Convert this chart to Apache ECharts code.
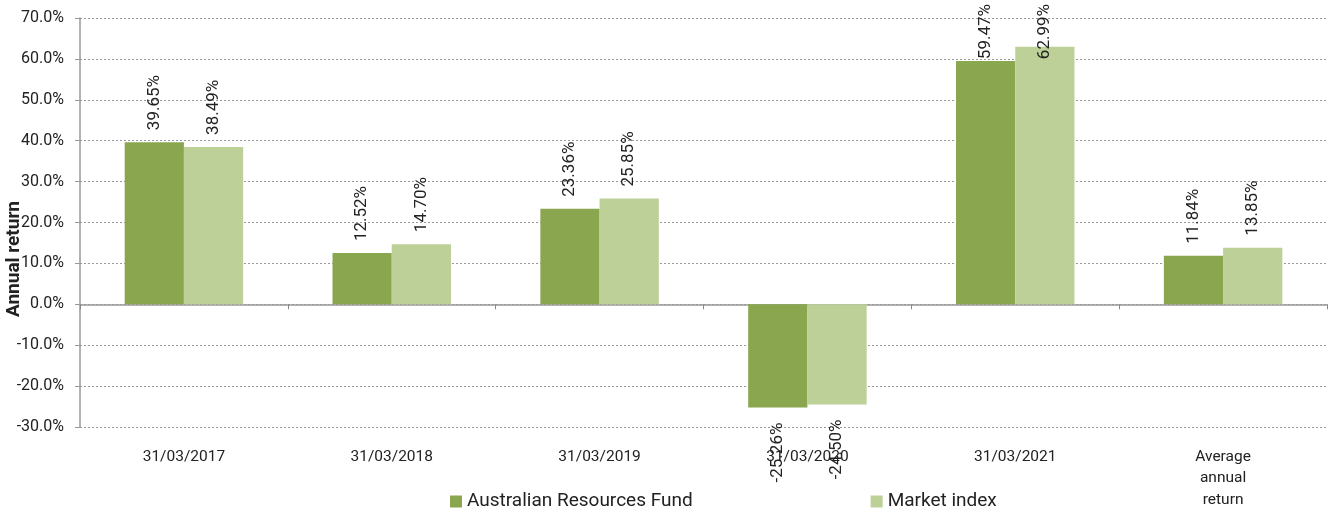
<!DOCTYPE html>
<html><head><meta charset="utf-8">
<script src="https://cdn.jsdelivr.net/npm/echarts@6/dist/echarts.min.js"></script>
<style>html,body{margin:0;padding:0;background:#fff}#c{width:1328px;height:514px}</style>
</head><body><div id="c"></div>
<script>
const categories = ['31/03/2017','31/03/2018','31/03/2019','31/03/2020','31/03/2021','Average\nannual\nreturn'];
const fundName = 'Australian Resources Fund';
const indexName = 'Market index';
const fundValues = [39.65, 12.52, 23.36, -25.26, 59.47, 11.84];
const indexValues = [38.49, 14.70, 25.85, -24.50, 62.99, 13.85];
const yTicks = {min: -30, max: 70, interval: 10};

const FONT = 'Roboto';
function mkData(vals){
  return vals.map(v => ({
    value: v,
    label: v < 0 ? {position: 'bottom', align: 'right', distance: 15} : {position: 'top', align: 'left', distance: 12}
  }));
}
const labelCfg = {
  show: true, rotate: 90, verticalAlign: 'middle',
  fontFamily: FONT, fontSize: 17, color: '#222',
  formatter: p => p.value.toFixed(2) + '%'
};
const TOP_LIMIT = 4;
const chart = echarts.init(document.getElementById('c'), null, {renderer: 'canvas'});
chart.setOption({
  animation: false,
  grid: {left: 80, right: 1, top: 18, bottom: 87, containLabel: false, outerBoundsMode: 'none'},
  legend: {
    left: 450, top: 492, padding: 0, itemWidth: 12, itemHeight: 12, itemGap: 178,
    icon: 'rect',
    textStyle: {fontFamily: FONT, fontSize: 19, color: '#222'},
    data: [fundName, indexName]
  },
  xAxis: [{
    type: 'category', data: categories,
    axisLine: {onZero: true, lineStyle: {color: '#999', width: 1.5}},
    axisTick: {show: true, length: 5, lineStyle: {color: '#888'}},
    axisLabel: {show: false},
    splitLine: {show: false}
  }, {
    type: 'category', data: categories, position: 'bottom',
    axisLine: {show: false, onZero: false}, axisTick: {show: false},
    axisLabel: {show: true, margin: 19, fontFamily: FONT, fontSize: 15.5, color: '#222', lineHeight: 21.5, interval: 0}
  }],
  yAxis: {
    type: 'value', min: yTicks.min, max: yTicks.max, interval: yTicks.interval,
    axisLine: {show: true, lineStyle: {color: '#999', width: 1.5}},
    axisTick: {show: true, length: 5, lineStyle: {color: '#999'}},
    axisLabel: {fontFamily: FONT, fontSize: 16, color: '#222', margin: 16, formatter: v => v.toFixed(1) + '%'},
    splitLine: {show: true, lineStyle: {color: '#999', type: [2, 2], width: 1}}
  },
  graphic: [{
    type: 'text', x: 5, y: 259, rotation: Math.PI / 2,
    style: {text: 'Annual return', font: 'bold 19px ' + FONT, fill: '#222', align: 'center', verticalAlign: 'top'}
  }],
  labelLayout: function (params) {
    const r = params.labelRect;
    if (r && r.y < TOP_LIMIT) {
      return {y: TOP_LIMIT + r.height};
    }
  },
  series: [{
    name: fundName, type: 'bar', xAxisIndex: 0, data: mkData(fundValues),
    barGap: '0%', barCategoryGap: '43%',
    itemStyle: {color: '#8AA64F'}, label: labelCfg
  }, {
    name: indexName, type: 'bar', xAxisIndex: 0, data: mkData(indexValues),
    barGap: '0%', barCategoryGap: '43%',
    itemStyle: {color: '#BCD098'}, label: labelCfg
  }]
});
</script></body></html>
